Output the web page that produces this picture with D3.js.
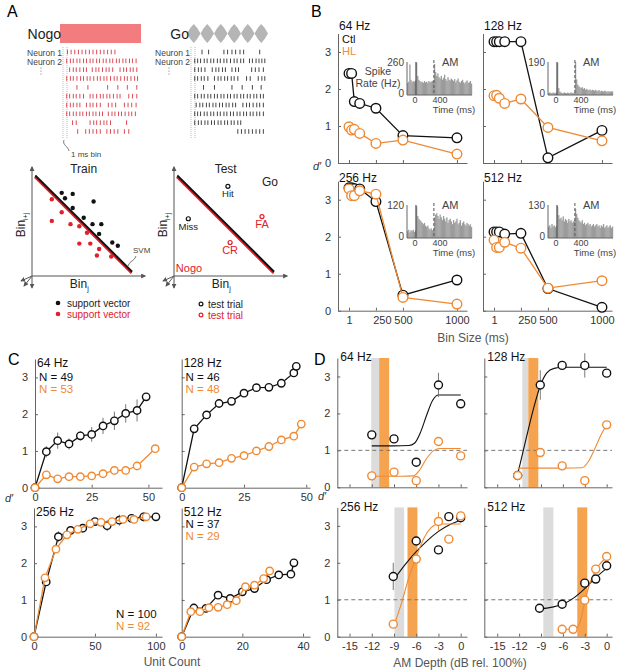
<!DOCTYPE html>
<html>
<head>
<meta charset="utf-8">
<script src="https://cdnjs.cloudflare.com/ajax/libs/d3/7.8.5/d3.min.js"></script>
<style>
    body { margin: 0; background: #fff; }
</style>
</head>
<body>
<svg id="fig" width="617" height="670"></svg>
<script>
const FONT = '"Liberation Sans", Arial, Helvetica, sans-serif';
const CTL = "#111", HL = "#ef8a33", AX = "#666", TXT = "#333", RED = "#dd4b55";

// ---------- A: rasters + SVM schematic ----------
const nogoRaster = [
    [2,7,12,17,22,27,32,37,42,47,52,57,62,67],
    [1,6,10,15,19,24,28,33,37,42,46,51,55,60,64,69,73,78,82,87,91,96],
    [5,10,14,19,24,28,36,41,45,50,55,59,64,74,79,83,88,92,97],
    [1,6,10,15,20,24,29,33,38,43,47,52,56,61,66,70,75,80,84,89,94,98],
    [15,30,57,71,84,97],
    [1,5,10,14,19,24,33,37,42,47,51,56,60,65,70,74,86,91,97],
    [1,6,10,15,19,28,33,37,42,47,58,63,68,80,85,90,96],
    [1,5,10,14,19,23,28,32,37,41,46,50,58,63,67,72,76,81,86,90,95],
    [9,14,33,38,42,47,52,56,61,83],
    [16,27,32,37,42,47,56,61,66,71,80,86]
];
const goRaster = [
    [11,20,41,46,52,57,63,68,90],
    [1,5,9,14,18,23,27,32,36,41,45,50,55,59,64,68,76,80,85,89,93,97],
    [1,6,10,15,25,30,34,39,43,52,57,61,79,84,89,95],
    [1,5,10,14,19,28,33,37,42,46,51,55,60,72,77,88,93,97],
    [13,28,52,66,80,92],
    [1,5,10,14,19,23,28,32,37,41,46,50,55,59,64,68,73,77,82,86,91,95],
    [3,8,12,17,21,26,30,35,39,44,48,53,57,67,72,76,81,86,90,95],
    [1,5,9,14,18,23,27,32,36,41,45,50,54,59,63,68,72,77,81,86,90,95],
    [1,6,10,15,19,24,28,33,37,42,46,51,55,60,64],
    [60,65,70,75,80,85,90,95]
];
const amCycles = [0, 1, 2, 3, 4, 5];
const trainBlack = [[0.27,0.77],[0.30,0.72],[0.37,0.76],[0.37,0.63],[0.47,0.54],[0.56,0.69],[0.55,0.48],[0.63,0.48],[0.61,0.39],[0.73,0.31],[0.78,0.28]];
const trainRed = [[0.18,0.71],[0.27,0.59],[0.18,0.51],[0.35,0.48],[0.43,0.46],[0.50,0.40],[0.43,0.30],[0.53,0.30],[0.61,0.25],[0.59,0.19],[0.72,0.18]];
const svmLine = [[0.03,0.93],[0.91,0.04]];
const testTrials = [
    {label:"Hit", p:[0.49,0.83], go:true},
    {label:"Miss", p:[0.13,0.53], go:true},
    {label:"FA", p:[0.80,0.55], go:false},
    {label:"CR", p:[0.51,0.31], go:false}
];

// ---------- B: d' vs bin size ----------
const binSizes = [1, 25, 50, 100, 250, 500, 1000];
const binTicks = [1, 250, 500, 1000];
const dTicks = [0, 1, 2, 3];
const binCtl64 = [2.42, 2.42, 1.66, 1.61, 1.48, 0.74, 0.68];
const binHL64 = [0.98, 0.89, 0.91, 0.80, 0.53, 0.62, 0.24];
const binCtl128 = [3.28, 3.28, 3.28, 3.28, 3.28, 0.14, 0.88];
const binHL128 = [1.82, 1.83, 1.75, 1.61, 1.73, 0.96, 0.60];
const binCtl256 = [3.32, 3.32, 3.30, 3.29, 2.95, 0.42, 0.83];
const binHL256 = [3.29, 3.11, 3.11, 3.24, 3.15, 0.36, 0.18];
const binCtl512 = [2.13, 2.13, 2.13, 2.07, 2.09, 0.60, 0.09];
const binHL512 = [1.91, 1.71, 1.71, 1.85, 1.69, 0.61, 0.81];
const binErrCtl64 = [0, 0, 0, 0, 0.12, 0.12, 0];
const binErrCtl512 = [0.13, 0.13, 0.13, 0, 0, 0, 0];

// PSTH insets, 25 ms bins from -200 ms
const psthStart = -200, psthBin = 25;
const psth64 = [95,105,240,120,100,110,105,115,
    255,150,120,110,100,105,95,110,100,105,95,110,100,105,110,115,
    245,180,150,170,140,130,150,120,135,160,125,110,140,120,115,130,
    120,110,125,100,115,130,105,95,110,120,100,90,105,115,95,100,110,90];
const psth128 = [10,15,12,10,14,12,10,15,
    185,40,20,15,12,10,15,12,10,14,12,10,15,12,10,14,
    190,90,60,50,45,40,45,35,40,30,35,30,28,32,25,30,
    28,25,30,22,25,28,20,25,22,20,25,22,18,22,20,18,22,20];
const psth256 = [25,30,20,28,25,30,22,28,
    115,80,70,65,60,55,50,55,45,40,45,35,30,35,28,30,
    75,85,90,80,70,85,75,65,80,70,60,75,55,65,70,60,
    50,65,55,60,70,50,55,65,45,55,60,50,45,55,50,45,50,40];
const psth512 = [45,50,40,55,45,50,42,48,
    125,90,75,80,70,85,65,75,70,60,75,65,70,60,65,70,
    115,95,80,70,65,60,70,55,60,50,55,60,50,55,45,50,
    55,45,50,55,45,50,40,50,45,55,40,45,50,40,45,50,40,45];
const psthTicks = [0, 400];

// ---------- C: d' vs unit count ----------
const unitCtl64 = [0,5,10,15,20,25,30,35,40,45,49];
const dCtl64 = [0,0.98,1.28,1.19,1.41,1.45,1.68,1.82,2.02,2.10,2.47];
const eCtl64 = [0,0.15,0.22,0.15,0.13,0.2,0.22,0.25,0.25,0.3,0];
const unitHL64 = [0,5,10,15,20,25,30,35,40,45,53];
const dHL64 = [0,0.35,0.24,0.30,0.30,0.32,0.38,0.47,0.47,0.59,1.06];
const unitCtl128 = [0,5,10,15,20,25,30,35,40,45,46];
const dCtl128 = [0,1.60,1.98,2.29,2.35,2.57,2.72,2.73,2.84,3.12,3.30];
const unitHL128 = [0,5,10,15,20,25,30,35,40,45,48];
const dHL128 = [0,0.56,0.65,0.68,0.80,0.87,1.00,1.12,1.30,1.40,1.73];
const unitCtl256 = [0,10,20,30,40,50,60,70,80,90,100];
const dCtl256 = [0,1.49,2.72,2.89,2.95,3.13,3.02,3.17,3.22,3.26,3.26];
const eCtl256 = [0,0,0.15,0.12,0.12,0.1,0.15,0.15,0.1,0.12,0];
const unitHL256 = [0,9,18,27,36,46,55,64,73,82,92];
const dHL256 = [0,1.60,2.38,2.77,2.92,3.07,3.11,3.13,3.19,3.19,3.26];
const unitCtl512 = [0,4,8,12,16,20,24,28,32,36,37];
const dCtl512 = [0,0.78,0.77,1.13,1.04,1.22,1.31,1.55,1.68,1.70,2.01];
const unitHL512 = [0,3,6,9,12,15,18,21,24,27,29];
const dHL512 = [0,0.68,0.68,0.79,0.80,0.87,0.98,1.36,1.40,1.58,1.79];

// ---------- D: d' vs AM depth ----------
const depthTicks = [-15, -12, -9, -6, -3, 0];
const depth64 = [-12, -9, -6, -3, 0];
const dCtlD64 = [1.42, 1.31, 0.68, 2.77, 2.26];
const dHLD64 = [0.31, 0.41, 0.18, 1.24, 0.85];
const depth128 = [-12.2, -9.1, -6.1, -3, 0];
const dCtlD128 = [0.32, 2.77, 3.30, 3.30, 3.09];
const dHLD128 = [0.32, 0.94, 0.58, 0.18, 1.69];
const depthCtl256 = [-9.1, -6, -3, -1.6, 0];
const dCtlD256 = [1.63, 2.59, 2.35, 3.25, 3.22];
const depthHL256 = [-9.1, -6, -3, -1.6, 0];
const dHLD256 = [0.34, 2.10, 3.12, 2.64, 3.27];
const depthCtl512 = [-9.2, -6.1, -3, -1.5, 0];
const dCtlD512 = [0.77, 0.88, 1.45, 1.56, 1.92];
const depthHL512 = [-6.1, -4.6, -3, -1.5, 0];
const dHLD512 = [0.20, 0.20, 0.99, 1.83, 2.17];
const errCtlD64 = [0, 0, 0, 0.33, 0];
const errCtlD128 = [0, 0.4, 0, 0.33, 0];
const errCtlD256 = [0.37, 0, 0, 0, 0];
const errHLD256 = [0, 0, 0.25, 0, 0];
const fitCtl64 = [[-12,1.12],[-9,1.12],[-7,1.13],[-6.2,1.2],[-5.4,1.5],[-4.6,1.95],[-3.8,2.35],[-3,2.5],[-1.5,2.5],[0,2.5]];
const fitHL64 = [[-12,0.30],[-8,0.30],[-6.4,0.31],[-5.6,0.45],[-4.6,0.78],[-3.6,1.0],[-2.8,1.05],[-1,1.05],[0,1.05]];
const fitCtl128 = [[-12.2,0.35],[-11,1.35],[-10,2.15],[-9.1,2.75],[-8.2,3.1],[-7.2,3.22],[-6,3.25],[-3,3.25],[0,3.25]];
const fitHL128 = [[-12.2,0.52],[-6,0.52],[-3.4,0.53],[-2.5,0.7],[-1.5,1.1],[-0.7,1.45],[0,1.68]];
const fitCtl256 = [[-9,1.55],[-7.5,1.95],[-6,2.3],[-4.5,2.6],[-3,2.85],[-1.5,3.03],[0,3.15]];
const fitHL256 = [[-9,0.3],[-8,0.9],[-7,1.6],[-6,2.15],[-5,2.65],[-4,2.95],[-3,3.05],[0,3.05]];
const fitCtl512 = [[-9.2,0.75],[-7.5,0.8],[-6,0.88],[-4.5,1.05],[-3,1.3],[-1.5,1.6],[0,1.85]];
const fitHL512 = [[-6.1,0.2],[-4.6,0.2],[-4,0.26],[-3.5,0.5],[-3,0.95],[-2.2,1.5],[-1.5,1.8],[0,2.15]];
const bandCtl = [[-12.07,-11.0],[-11.56,-10.74],[-8.94,-7.63],[-8.68,-7.3]];
const bandHL = [[-11.0,-9.65],[-10.74,-9.37],[-7.18,-5.84],[-4.03,-2.66]];

const svg = d3.select("#fig").attr("font-family", FONT);

svg.append("defs").append("marker")
    .attr("id", "arr").attr("viewBox", "0 0 6 6").attr("refX", 5).attr("refY", 3)
    .attr("markerWidth", 5).attr("markerHeight", 5).attr("orient", "auto")
    .append("path").attr("d", "M0,0L6,3L0,6Z").attr("fill", "#555");

function txt(x, y, s, o = {}) {
    return svg.append("text").attr("x", x).attr("y", y).text(s)
        .attr("font-size", o.size || 11).attr("fill", o.fill || TXT)
        .attr("text-anchor", o.anchor || "start")
        .attr("font-style", o.italic ? "italic" : null);
}

// generic MATLAB-like axes with inward ticks
function axes(o) {
    const g = svg.append("g");
    const x = d3.scaleLinear().domain(o.xd).range([o.x0, o.x1]);
    const y = d3.scaleLinear().domain([0, 3.5]).range([o.yb, o.yb - o.h]);
    const gx = g.append("g").attr("transform", `translate(0,${o.yb})`)
        .call(d3.axisBottom(x).tickValues(o.xt).tickSizeInner(-3).tickSizeOuter(0).tickPadding(6)
            .tickFormat(o.xl ? (d => String(d)) : () => ""));
    const gy = g.append("g").attr("transform", `translate(${o.x0},0)`)
        .call(d3.axisLeft(y).tickValues(dTicks).tickSizeInner(-3).tickSizeOuter(0).tickPadding(7)
            .tickFormat(o.yl ? (d => String(d)) : () => ""));
    [gx, gy].forEach(a => {
        a.attr("font-family", FONT).attr("font-size", 11);
        a.select(".domain").attr("stroke", AX);
        a.selectAll(".tick line").attr("stroke", AX);
        a.selectAll("text").attr("fill", TXT);
    });
    return {g, x, y, gx};
}

function series(p, xs, ys, color, r, errs, ecolor) {
    if (errs) {
        p.g.append("g").selectAll("line").data(xs.map((d, i) => [d, ys[i], errs[i]]).filter(d => d[2] > 0))
            .join("line")
            .attr("x1", d => p.x(d[0])).attr("x2", d => p.x(d[0]))
            .attr("y1", d => p.y(d[1] - d[2])).attr("y2", d => p.y(d[1] + d[2]))
            .attr("stroke", ecolor || color).attr("stroke-width", 1);
    }
    if (r.line !== false) {
        p.g.append("path").datum(xs.map((d, i) => [d, ys[i]]))
            .attr("d", d3.line().x(d => p.x(d[0])).y(d => p.y(d[1])))
            .attr("fill", "none").attr("stroke", color).attr("stroke-width", 1.3);
    }
    p.g.append("g").selectAll("circle").data(xs.map((d, i) => [d, ys[i]])).join("circle")
        .attr("cx", d => p.x(d[0])).attr("cy", d => p.y(d[1])).attr("r", r.r)
        .attr("fill", "#fff").attr("stroke", color).attr("stroke-width", 1.4);
}

// ===== Panel A =====
txt(7, 17, "A", {size: 16, fill: "#000"});

function raster(rows, left, color, label) {
    const rx = d3.scaleLinear().domain([0, 100]).range([left + 2, left + 75]);
    const ry = d3.scaleLinear().domain([0, 9]).range([52, 131.5]);
    svg.append("g").selectAll("line").data([left - 1, left + 3]).join("line")
        .attr("x1", d => d).attr("x2", d => d).attr("y1", 47).attr("y2", 138)
        .attr("stroke", "#aaa").attr("stroke-width", 0.8).attr("stroke-dasharray", "1,1");
    rows.forEach((row, i) => {
        svg.append("g").selectAll("line").data(row).join("line")
            .attr("x1", d => rx(d)).attr("x2", d => rx(d))
            .attr("y1", ry(i) - 2.3).attr("y2", ry(i) + 2.3)
            .attr("stroke", color).attr("stroke-width", 1);
    });
    txt(left - 2, 55.5, "Neuron 1", {size: 8.5, anchor: "end", fill: "#444"});
    txt(left - 2, 64.5, "Neuron 2", {size: 8.5, anchor: "end", fill: "#444"});
    svg.append("g").selectAll("circle").data([0, 1, 2]).join("circle")
        .attr("cx", left - 23).attr("cy", d => 68 + d * 3).attr("r", 0.6).attr("fill", "#666");
    txt(left - 3, 38.5, label, {size: 14, anchor: "end", fill: "#222"});
}
svg.append("rect").attr("x", 60).attr("y", 24).attr("width", 81).attr("height", 19).attr("fill", "#f27c7e");
raster(nogoRaster, 64, RED, "Nogo");
const amX = d3.scaleLinear().domain([0, 6]).range([187, 268]);
svg.append("g").selectAll("path").data(amCycles).join("path")
    .attr("d", d => {
        const a = amX(d), b = amX(d + 0.5), c = amX(d + 1);
        return `M${a},33.5 Q${(a + b) / 2},27 ${b},24 Q${(b + c) / 2},27 ${c},33.5 Q${(b + c) / 2},40 ${b},43 Q${(a + b) / 2},40 ${a},33.5Z`;
    })
    .attr("fill", "#b5b5b5");
raster(goRaster, 192, "#444", "Go");
svg.append("path").attr("d", "M64,140 C62,145 68,146 69,151").attr("fill", "none").attr("stroke", "#555").attr("stroke-width", 0.8);
txt(71, 157, "1 ms bin", {size: 8, fill: "#444"});

function svgLineCoords(l, sx, sy) { return [sx(l[0][0]), sy(l[0][1]), sx(l[1][0]), sy(l[1][1])]; }
function schematic(x0, title) {
    const sx = d3.scaleLinear().domain([0, 1]).range([x0, x0 + 110]);
    const sy = d3.scaleLinear().domain([0, 1]).range([276, 168]);
    const g = svg.append("g");
    const ax = [[sx(0), sy(0), sx(0), sy(1.01)], [sx(0), sy(0), sx(1.03), sy(0)],
                [sx(0), sy(0), sx(0), sy(0) + 12], [sx(0), sy(0), sx(0) - 11, sy(0) + 5],
                [sx(0), sy(0), sx(0) - 8, sy(0) + 10]];
    g.selectAll("line.ax").data(ax).join("line")
        .attr("x1", d => d[0]).attr("y1", d => d[1]).attr("x2", d => d[2]).attr("y2", d => d[3])
        .attr("stroke", "#555").attr("stroke-width", 1).attr("marker-end", "url(#arr)");
    const lp = svgLineCoords(svmLine, sx, sy);
    g.append("line").attr("x1", lp[0] - 0.6).attr("y1", lp[1] + 1.6).attr("x2", lp[2] - 0.6).attr("y2", lp[3] + 1.6)
        .attr("stroke", "#e0202a").attr("stroke-width", 2);
    g.append("line").attr("x1", lp[0]).attr("y1", lp[1]).attr("x2", lp[2]).attr("y2", lp[3])
        .attr("stroke", "#111").attr("stroke-width", 2);
    txt(sx(0.47), 173, title, {size: 12, anchor: "middle", fill: "#222"});
    txt(sx(0.43), 288, "Bin", {size: 12, anchor: "middle", fill: "#222"})
        .append("tspan").attr("font-size", 7).attr("dy", 3).text("j");
    svg.append("text").attr("transform", `translate(${x0 - 7},225) rotate(-90)`)
        .attr("text-anchor", "middle").attr("font-size", 12).attr("fill", "#222").text("Bin")
        .append("tspan").attr("font-size", 7).attr("dy", 3).text("i+j");
    return {g, sx, sy};
}

const tr = schematic(32, "Train");
tr.g.append("g").selectAll("circle").data(trainBlack).join("circle")
    .attr("cx", d => tr.sx(d[0])).attr("cy", d => tr.sy(d[1])).attr("r", 2.2).attr("fill", "#111");
tr.g.append("g").selectAll("circle").data(trainRed).join("circle")
    .attr("cx", d => tr.sx(d[0])).attr("cy", d => tr.sy(d[1])).attr("r", 2.2).attr("fill", "#e0202a");
svg.append("path").attr("d", "M128,266 C131,259 133,263 136,256").attr("fill", "none").attr("stroke", "#555").attr("stroke-width", 0.8);
txt(133, 253, "SVM", {size: 8, fill: "#444"});

const te = schematic(174, "Test");
te.g.append("g").selectAll("circle").data(testTrials).join("circle")
    .attr("cx", d => te.sx(d.p[0])).attr("cy", d => te.sy(d.p[1])).attr("r", 2)
    .attr("fill", "#fff").attr("stroke", d => d.go ? "#111" : "#e0202a").attr("stroke-width", 1.2);
testTrials.forEach(d => txt(te.sx(d.p[0]), te.sy(d.p[1]) + 11, d.label,
    {size: d.go ? 9.5 : 11, anchor: "middle", fill: d.go ? "#222" : "#e0202a"}));
txt(270, 186, "Go", {size: 12, anchor: "middle", fill: "#222"});
txt(189, 272, "Nogo", {size: 11, anchor: "middle", fill: "#e0202a"});

// legend
[[58, 303, "#111"], [58, 314, "#e0202a"]].forEach(d => {
    svg.append("circle").attr("cx", d[0]).attr("cy", d[1]).attr("r", 2.3).attr("fill", d[2]);
    txt(67, d[1] + 3.5, "support vector", {size: 10, fill: d[2] === "#111" ? "#222" : "#e0202a"});
});
[[201, 304, "#111"], [201, 315, "#e0202a"]].forEach(d => {
    svg.append("circle").attr("cx", d[0]).attr("cy", d[1]).attr("r", 1.9).attr("fill", "#fff")
        .attr("stroke", d[2]).attr("stroke-width", 1.2);
    txt(208, d[1] + 3.5, "test trial", {size: 10, fill: d[2] === "#111" ? "#222" : "#e0202a"});
});

// ===== Panel B =====
txt(311, 17, "B", {size: 16, fill: "#000"});
const bPanels = [
    {t: "64 Hz", x0: 338, yb: 163, ty: 30, ctl: binCtl64, hl: binHL64, ec: binErrCtl64, xl: false, yl: true, ps: psth64, pm: 260, pl: 407, pt: 62},
    {t: "128 Hz", x0: 483, yb: 163, ty: 30, ctl: binCtl128, hl: binHL128, xl: false, yl: false, ps: psth128, pm: 190, pl: 548, pt: 62},
    {t: "256 Hz", x0: 338, yb: 310.7, ty: 181.5, ctl: binCtl256, hl: binHL256, xl: true, yl: true, ps: psth256, pm: 120, pl: 407, pt: 205},
    {t: "512 Hz", x0: 483, yb: 310.7, ty: 181.5, ctl: binCtl512, hl: binHL512, ec: binErrCtl512, xl: true, yl: false, ps: psth512, pm: 130, pl: 548, pt: 205}
];
bPanels.forEach(b => {
    const p = axes({x0: b.x0, x1: b.x0 + 129, yb: b.yb, h: 129.5, xd: [-101, 1093], xt: binTicks, xl: b.xl, yl: b.yl});
    p.gx.selectAll(".tick text").filter(d => d === 250).attr("dx", 6);
    series(p, binSizes, b.ctl, CTL, {r: 4.8}, b.ec, "#888");
    series(p, binSizes, b.hl, HL, {r: 4.8});
    txt(b.x0 + 1, b.ty, b.t, {size: 12, fill: "#111"});
    // PSTH inset
    const ix = d3.scaleLinear().domain([psthStart, psthStart + psthBin * b.ps.length]).range([b.pl, b.pl + 65]);
    const iy = d3.scaleLinear().domain([0, b.pm]).range([b.pt + 33, b.pt]);
    const ig = svg.append("g");
    ig.selectAll("rect").data(b.ps).join("rect")
        .attr("x", (d, i) => ix(psthStart + i * psthBin))
        .attr("width", ix(psthBin) - ix(0) + 0.2)
        .attr("y", d => iy(d)).attr("height", d => iy(0) - iy(d))
        .attr("fill", "#9b9b9b");
    ig.append("path").attr("d", `M${b.pl},${iy(b.pm)}V${iy(0)}H${b.pl + 65}`).attr("fill", "none").attr("stroke", AX);
    ig.append("line").attr("x1", ix(0)).attr("x2", ix(0)).attr("y1", iy(b.pm)).attr("y2", iy(0)).attr("stroke", "#555").attr("stroke-width", 1.2);
    ig.append("line").attr("x1", ix(400)).attr("x2", ix(400)).attr("y1", iy(b.pm) - 2).attr("y2", iy(0))
        .attr("stroke", "#555").attr("stroke-width", 1).attr("stroke-dasharray", "3,2");
    txt(b.pl - 3, iy(b.pm) + 4, String(b.pm), {size: 10, anchor: "end", fill: "#444"});
    txt(b.pl - 3, iy(0) + 2, "0", {size: 10, anchor: "end", fill: "#444"});
    psthTicks.forEach(t => txt(ix(t) + (t ? 6 : -1), iy(0) + 7.5, String(t), {size: 9, anchor: "middle", fill: "#444"}));
    txt(ix(400) + 8, iy(b.pm) + 4, "AM", {size: 11, fill: "#444"});
    txt(b.pl + 47, iy(0) + 18, "Time (ms)", {size: 9.5, anchor: "middle", fill: "#444"});
});
txt(342, 42.5, "Ctl", {size: 11, fill: "#111"});
txt(342, 54.5, "HL", {size: 11, fill: HL});
txt(378, 75, "Spike", {size: 10.5, anchor: "middle", fill: "#444"});
txt(378, 87, "Rate (Hz)", {size: 10.5, anchor: "middle", fill: "#444"});
txt(313, 170, "d′", {size: 11, italic: true, fill: "#333"});
txt(473, 342, "Bin Size (ms)", {size: 12, anchor: "middle", fill: "#555"});

// ===== Panel C =====
txt(8, 365, "C", {size: 16, fill: "#000"});
const cPanels = [
    {t: "64 Hz", x0: 35, x1: 162, yb: 487.7, xd: [0, 56], xt: [0, 25, 50], yl: true,
     xc: unitCtl64, c: dCtl64, ec: eCtl64, xh: unitHL64, h: dHL64, n: ["N = 49", "N = 53"], nx: 39, ny: 381},
    {t: "128 Hz", x0: 181.7, x1: 310, yb: 487.7, xd: [0, 51.5], xt: [0, 25, 50], yl: false,
     xc: unitCtl128, c: dCtl128, xh: unitHL128, h: dHL128, n: ["N = 46", "N = 48"], nx: 185.5, ny: 381},
    {t: "256 Hz", x0: 34, x1: 162, yb: 636.7, xd: [0, 105], xt: [0, 50, 100], yl: true,
     xc: unitCtl256, c: dCtl256, ec: eCtl256, xh: unitHL256, h: dHL256, n: ["N = 100", "N = 92"], nx: 116, ny: 617.5},
    {t: "512 Hz", x0: 181.7, x1: 310, yb: 636.7, xd: [0, 42.3], xt: [0, 20, 40], yl: false,
     xc: unitCtl512, c: dCtl512, xh: unitHL512, h: dHL512, n: ["N = 37", "N = 29"], nx: 185.5, ny: 528}
];
cPanels.forEach(c => {
    const p = axes({x0: c.x0, x1: c.x1, yb: c.yb, h: 128.7, xd: c.xd, xt: c.xt, xl: true, yl: c.yl});
    series(p, c.xc, c.c, CTL, {r: 3.7}, c.ec, "#777");
    series(p, c.xh, c.h, HL, {r: 3.7});
    txt(c.x0 + 2, c.yb - 121, c.t, {size: 12, fill: "#111"});
    txt(c.nx, c.ny, c.n[0], {size: 11.5, fill: "#111"});
    txt(c.nx, c.ny + 12, c.n[1], {size: 11.5, fill: HL});
});
txt(5, 502, "d′", {size: 11, italic: true, fill: "#333"});
txt(172, 666, "Unit Count", {size: 12, anchor: "middle", fill: "#555"});

// ===== Panel D =====
txt(314, 365, "D", {size: 16, fill: "#000"});
const dPanels = [
    {t: "64 Hz", x0: 337.3, x1: 467, yb: 487.3, xd: [-16.65, 0.85], xl: false, yl: true,
     xc: depth64, c: dCtlD64, ec: errCtlD64, xh: depth64, h: dHLD64, fc: fitCtl64, fh: fitHL64, k: 0},
    {t: "128 Hz", x0: 484.3, x1: 612, yb: 487.3, xd: [-16.77, 0.73], xl: false, yl: false,
     xc: depth128, c: dCtlD128, ec: errCtlD128, xh: depth128, h: dHLD128, fc: fitCtl128, fh: fitHL128, k: 1},
    {t: "256 Hz", x0: 337.3, x1: 467, yb: 636.7, xd: [-16.65, 0.85], xl: true, yl: true,
     xc: depthCtl256, c: dCtlD256, ec: errCtlD256, xh: depthHL256, h: dHLD256, eh: errHLD256, fc: fitCtl256, fh: fitHL256, k: 2},
    {t: "512 Hz", x0: 484.3, x1: 612, yb: 636.7, xd: [-16.77, 0.73], xl: true, yl: false,
     xc: depthCtl512, c: dCtlD512, xh: depthHL512, h: dHLD512, fc: fitCtl512, fh: fitHL512, k: 3}
];
dPanels.forEach(d => {
    const p = axes({x0: d.x0, x1: d.x1, yb: d.yb, h: 129.3, xd: d.xd, xt: depthTicks, xl: d.xl, yl: d.yl});
    const bg = p.g.insert("g", ":first-child");
    [[bandCtl[d.k], "#dcdcdc"], [bandHL[d.k], "#f6a350"]].forEach(([b, col]) => {
        bg.append("rect").attr("x", p.x(b[0])).attr("width", p.x(b[1]) - p.x(b[0]))
            .attr("y", p.y(3.5)).attr("height", p.y(0) - p.y(3.5)).attr("fill", col);
    });
    p.g.append("line").attr("x1", d.x0).attr("x2", d.x1).attr("y1", p.y(1)).attr("y2", p.y(1))
        .attr("stroke", "#777").attr("stroke-width", 1).attr("stroke-dasharray", "4,3");
    const fl = d3.line().x(v => p.x(v[0])).y(v => p.y(v[1])).curve(d3.curveMonotoneX);
    p.g.append("path").attr("d", fl(d.fc)).attr("fill", "none").attr("stroke", CTL).attr("stroke-width", 1.1);
    p.g.append("path").attr("d", fl(d.fh)).attr("fill", "none").attr("stroke", HL).attr("stroke-width", 1.1);
    series(p, d.xc, d.c, CTL, {r: 4, line: false}, d.ec, "#777");
    series(p, d.xh, d.h, HL, {r: 4, line: false}, d.eh, HL);
    txt(d.x0 + 3, d.yb - 126, d.t, {size: 12, fill: "#111"});
});
txt(318, 500, "d′", {size: 11, italic: true, fill: "#333"});
txt(460, 667, "AM Depth (dB rel. 100%)", {size: 12, anchor: "middle", fill: "#555"});
</script>
</body>
</html>
